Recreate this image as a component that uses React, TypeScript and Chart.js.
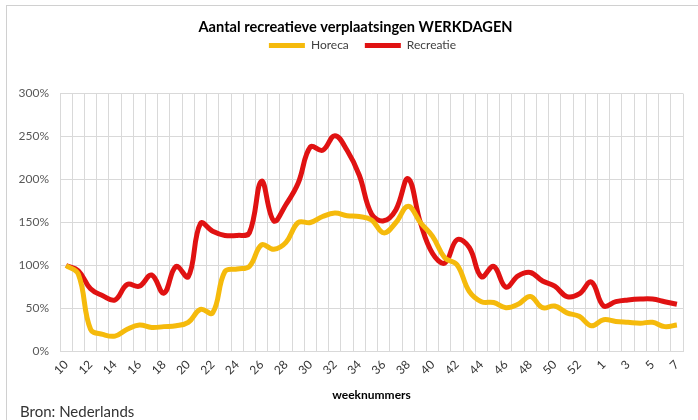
import React, { useEffect, useRef } from "react";
import { Chart, registerables } from "chart.js";

Chart.register(...registerables);

const weeks: string[] = [
  "10", "11", "12", "13", "14", "15", "16", "17", "18", "19",
  "20", "21", "22", "23", "24", "25", "26", "27", "28", "29",
  "30", "31", "32", "33", "34", "35", "36", "37", "38", "39",
  "40", "41", "42", "43", "44", "45", "46", "47", "48", "49",
  "50", "51", "52", "53", "1", "2", "3", "4", "5", "6", "7",
];

const horeca: number[] = [
  100, 90, 26, 20, 18, 26, 31, 28, 29, 30,
  34, 49, 45, 93, 96, 99, 124, 119, 127, 150,
  150, 157, 161, 158, 157, 153, 138, 150, 169, 150,
  134, 109, 101, 70, 58, 57, 51, 55, 64, 51,
  53, 45, 41, 30, 37, 35, 34, 33, 34, 29, 31,
];

const recreatie: number[] = [
  100, 94, 73, 65, 60, 78, 76, 89, 68, 99,
  87, 149, 140, 135, 135, 138, 198, 152, 171, 196,
  238, 234, 251, 234, 205, 160, 152, 165, 201, 150,
  114, 103, 130, 121, 87, 99, 75, 88, 92, 82,
  76, 64, 67, 81, 53, 58, 60, 61, 61, 58, 55,
];

const yTicks: number[] = [0, 50, 100, 150, 200, 250, 300];

const FONT = "Lato, 'Liberation Sans', sans-serif";

const legendSpacer = {
  id: "legendSpacer",
  beforeInit(chart: any) {
    const legend = chart.legend;
    if (!legend) return;
    const origFit = legend.fit;
    legend.fit = function fit() {
      origFit.bind(legend)();
      this.height += 32;
    };
  },
};

const shiftHeader = {
  id: "shiftHeader",
  afterLayout(chart: any) {
    const t = chart.titleBlock;
    if (t) {
      t.left += 9;
      t.right += 9;
    }
    const l = chart.legend;
    if (l) {
      l.left += 16;
      l.right += 16;
    }
  },
};

export default function App() {
  const ref = useRef<HTMLCanvasElement | null>(null);

  useEffect(() => {
    if (!ref.current) return;
    const chart = new Chart(ref.current, {
      type: "line",
      data: {
        labels: weeks,
        datasets: [
          {
            label: "Horeca",
            data: horeca,
            borderColor: "#F5BA0C",
            backgroundColor: "#F5BA0C",
            borderWidth: 5,
            pointRadius: 0,
            tension: 0.4,
          },
          {
            label: "Recreatie",
            data: recreatie,
            borderColor: "#E01212",
            backgroundColor: "#E01212",
            borderWidth: 5,
            pointRadius: 0,
            tension: 0.4,
          },
        ],
      },
      options: {
        animation: false,
        responsive: false,
        maintainAspectRatio: false,
        layout: { padding: { left: 10, right: 15, top: 19, bottom: 18 } },
        plugins: {
          tooltip: { enabled: false },
          title: {
            display: true,
            text: "Aantal recreatieve verplaatsingen WERKDAGEN",
            color: "#000000",
            font: { family: FONT, size: 14.6, weight: "bold" },
            padding: { top: 0, bottom: -13 },
          },
          legend: {
            position: "top",
            labels: {
              boxWidth: 36,
              boxHeight: 5,
              padding: 16,
              color: "#404040",
              font: { family: FONT, size: 12 },
              generateLabels: (c: any) =>
                Chart.defaults.plugins.legend.labels
                  .generateLabels(c)
                  .map((l: any) => ({ ...l, lineWidth: 0, fillStyle: l.strokeStyle })),
            },
          },
        },
        scales: {
          x: {
            offset: true,
            grid: { offset: true, color: "#d9d9d9", drawTicks: false, lineWidth: 1 },
            border: { display: true, color: "#d9d9d9" },
            ticks: {
              autoSkip: false,
              maxRotation: 45,
              minRotation: 45,
              padding: 6,
              color: "#333333",
              font: { family: FONT, size: 12 },
              callback: (_v: any, i: number) => (i % 2 === 0 ? weeks[i] : ""),
            },
            title: {
              display: true,
              text: "weeknummers",
              color: "#000000",
              font: { family: FONT, size: 12, weight: "bold" },
              padding: { top: 4, bottom: 0 },
            },
          },
          y: {
            min: 0,
            max: 300,
            afterFit: (axis: any) => {
              axis.width = 50;
            },
            afterBuildTicks: (axis: any) => {
              axis.ticks = yTicks.map((v) => ({ value: v }));
            },
            grid: { color: "#d9d9d9", drawTicks: false, lineWidth: 1 },
            border: { display: false },
            ticks: {
              padding: 11,
              color: "#595959",
              font: { family: FONT, size: 12 },
              callback: (v: any) => v + "%",
            },
          },
        },
      },
      plugins: [legendSpacer, shiftHeader],
    });
    return () => chart.destroy();
  }, []);

  return (
    <div
      style={{
        position: "fixed",
        left: 0,
        top: 0,
        width: 698,
        height: 420,
        background: "#ffffff",
        overflow: "hidden",
      }}
    >
      <div
        style={{
          position: "absolute",
          left: 6,
          top: 5,
          width: 700,
          height: 420,
          borderLeft: "1px solid #d0d0d0",
          borderTop: "1px solid #d0d0d0",
        }}
      />
      <canvas
        ref={ref}
        width={698}
        height={420}
        style={{ position: "absolute", left: 0, top: 0, width: 698, height: 420 }}
      />
      <div
        style={{
          position: "absolute",
          left: 20,
          top: 403,
          fontFamily: FONT,
          fontSize: 15,
          color: "#333333",
          lineHeight: "17px",
          whiteSpace: "nowrap",
        }}
      >
        Bron: Nederlands
      </div>
    </div>
  );
}
